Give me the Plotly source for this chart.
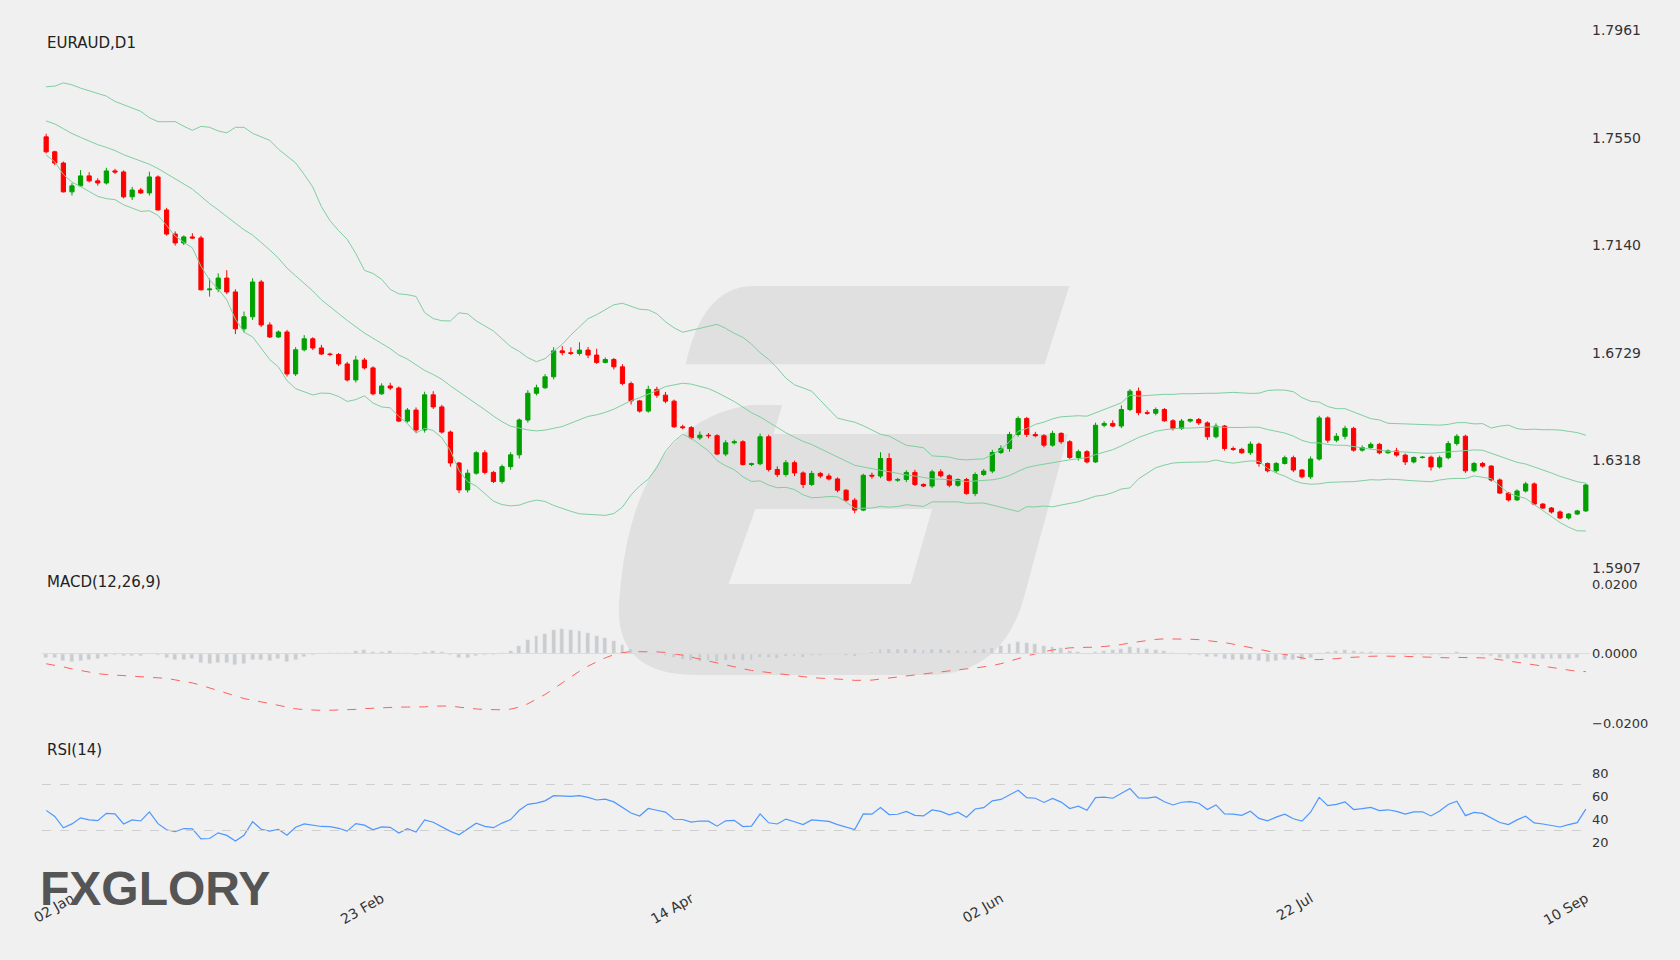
import numpy as np
import pandas as pd
import plotly.graph_objects as go

# closes of the 19 sessions before the chart (used only to warm up indicators)
history = [1.7680, 1.7710, 1.7730, 1.7700, 1.7670, 1.7650, 1.7630, 1.7660, 1.7640, 1.7610,
           1.7590, 1.7620, 1.7600, 1.7570, 1.7550, 1.7580, 1.7540, 1.7520, 1.7530]

first_open = 1.7553
closes = [
    1.7496, 1.7453, 1.7343, 1.7366, 1.7404, 1.7385, 1.7377, 1.7423, 1.7419, 1.7324, 1.7350, 1.7339,
    1.7400, 1.7274, 1.7182, 1.7148, 1.7171, 1.7167, 1.6969, 1.6972, 1.7014, 1.6961, 1.6820, 1.6866,
    1.6999, 1.6835, 1.6789, 1.6808, 1.6648, 1.6740, 1.6782, 1.6747, 1.6724, 1.6722, 1.6686, 1.6625,
    1.6701, 1.6671, 1.6572, 1.6602, 1.6594, 1.6468, 1.6510, 1.6434, 1.6568, 1.6522, 1.6426, 1.6308,
    1.6205, 1.6269, 1.6347, 1.6272, 1.6237, 1.6294, 1.6339, 1.6472, 1.6574,
    1.6595, 1.6637, 1.6736,
    1.6729, 1.6726, 1.6739, 1.6720, 1.6692, 1.6703, 1.6675, 1.6611, 1.6545, 1.6506, 1.6589, 1.6567,
    1.6544, 1.6446, 1.6443, 1.6404, 1.6414, 1.6412, 1.6342, 1.6385, 1.6389, 1.6302, 1.6305, 1.6408,
    1.6283, 1.6264, 1.6309, 1.6270, 1.6226, 1.6268, 1.6258, 1.6247, 1.6204, 1.6166, 1.6128, 1.6261,
    1.6258, 1.6325, 1.6242, 1.6245, 1.6272, 1.6226, 1.6220, 1.6274, 1.6259, 1.6223, 1.6245, 1.6191,
    1.6264, 1.6277, 1.6348,
    1.6363, 1.6417, 1.6478, 1.6417, 1.6412, 1.6376, 1.6421, 1.6389, 1.6329, 1.6351, 1.6312, 1.6452,
    1.6459, 1.6449, 1.6512, 1.6582, 1.6500, 1.6498, 1.6512, 1.6469, 1.6440, 1.6468, 1.6474, 1.6461,
    1.6408, 1.6449, 1.6363, 1.6360, 1.6347, 1.6380, 1.6306, 1.6278, 1.6306, 1.6328, 1.6281, 1.6255,
    1.6323, 1.6480, 1.6395, 1.6410, 1.6440, 1.6357, 1.6367, 1.6379, 1.6347, 1.6354, 1.6338, 1.6312,
    1.6329, 1.6330, 1.6293, 1.6328, 1.6382, 1.6410, 1.6278, 1.6306, 1.6296,
    1.6243, 1.6193, 1.6167, 1.6201, 1.6228, 1.6151, 1.6136, 1.6121, 1.6098, 1.6113, 1.6125, 1.6224,
]

# wick lengths above / below the body, in pips
upper_pips = [
    12, 4, 6, 10, 22, 14, 10, 12, 8, 6, 12, 8, 20, 6, 8, 10, 6, 14, 8, 40, 18, 30, 10, 20,
    14, 8, 10, 6, 8, 10, 14, 6, 12, 5, 6, 8, 16, 8, 6, 10, 12, 6, 8, 10, 12, 14, 8, 6,
    4, 14, 6, 10, 6, 8, 10, 6, 12, 12, 10, 14,
    18, 20, 30, 12, 24, 8, 6, 10, 8, 4, 14, 10, 12, 6, 8, 6, 14, 8, 6, 10, 8, 6, 4, 12,
    8, 12, 10, 8, 6, 10, 6, 10, 6, 4, 8, 6, 10, 24, 20, 6, 8, 10, 4, 8, 10, 6, 4, 6, 8, 8, 10,
    12, 10, 8, 6, 10, 6, 10, 4, 6, 8, 6, 10, 8, 12, 16, 8, 14, 10, 8, 6, 6, 8, 4, 6,
    6, 10, 4, 8, 6, 10, 6, 4, 6, 8, 8, 4, 10, 8, 6, 12, 10, 6, 8, 8, 6, 6, 12, 6,
    4, 4, 6, 8, 10, 8, 6, 6, 6,
    4, 6, 4, 6, 8, 6, 4, 4, 6, 4, 4, 6,
]
lower_pips = [
    6, 8, 2, 14, 4, 6, 10, 6, 8, 6, 12, 4, 10, 2, 6, 10, 8, 4, 2, 26, 12, 8, 20, 14,
    12, 8, 4, 4, 10, 8, 6, 8, 4, 6, 8, 6, 10, 6, 6, 4, 8, 4, 6, 12, 10, 8, 6, 14,
    12, 10, 6, 8, 6, 8, 12, 14, 10, 8, 4, 10,
    10, 6, 8, 12, 6, 4, 10, 6, 14, 6, 6, 10, 8, 4, 6, 6, 8, 10, 4, 8, 6, 4, 6, 6,
    8, 10, 8, 12, 14, 6, 8, 6, 8, 6, 12, 4, 10, 8, 4, 6, 10, 6, 4, 8, 6, 8, 6, 4, 10, 6, 8,
    6, 12, 8, 10, 6, 8, 6, 8, 6, 12, 6, 4, 8, 4, 8, 6, 10, 6, 8, 4, 8, 6, 6, 8,
    12, 6, 8, 6, 4, 8, 12, 6, 8, 4, 8, 6, 8, 6, 10, 8, 12, 6, 6, 6, 6, 4, 6, 12,
    6, 4, 14, 6, 6, 8, 8, 6, 6,
    6, 4, 6, 4, 6, 4, 4, 6, 4, 6, 4, 4,
]

tick_labels = ["02 Jan", "23 Feb", "14 Apr", "02 Jun", "22 Jul", "10 Sep"]
tick_index = [3, 39, 75, 111, 147, 179]

price_ticks = [1.7961, 1.7550, 1.7140, 1.6729, 1.6318, 1.5907]

# ---- build candles & indicators
n = len(closes)
idx = np.arange(n)
c = np.array(closes)
o = np.concatenate([[first_open], c[:-1]])
h = np.maximum(o, c) + np.array(upper_pips) * 0.0001
l = np.minimum(o, c) - np.array(lower_pips) * 0.0001

full = pd.Series(history + closes)
mid = full.rolling(20).mean()
sd = full.rolling(20).std(ddof=0)
k = len(history)
bb_mid = mid.iloc[k:].values
bb_up = (mid + 2 * sd).iloc[k:].values
bb_lo = (mid - 2 * sd).iloc[k:].values

ema12 = full.ewm(span=12, adjust=False).mean()
ema26 = full.ewm(span=26, adjust=False).mean()
macd = ema12 - ema26
signal = macd.ewm(span=9, adjust=False).mean()
hist = (macd - signal).iloc[k:].values
sig = signal.iloc[k:].values

delta = full.diff()
gain = delta.clip(lower=0).ewm(alpha=1 / 14, adjust=False).mean()
loss = (-delta.clip(upper=0)).ewm(alpha=1 / 14, adjust=False).mean()
rsi = (100 - 100 / (1 + gain / loss)).iloc[k:].values

BG = "#f0f0f0"
BAND = "#7fcf9f"

fig = go.Figure()
for band in (bb_up, bb_mid, bb_lo):
    fig.add_trace(go.Scatter(x=idx, y=band, mode="lines", line=dict(color=BAND, width=1),
                             xaxis="x", yaxis="y", hoverinfo="skip"))
fig.add_trace(go.Candlestick(
    x=idx, open=o, high=h, low=l, close=c, xaxis="x", yaxis="y", whiskerwidth=0,
    increasing=dict(line=dict(color="#00a000", width=1), fillcolor="#00a000"),
    decreasing=dict(line=dict(color="#ff0000", width=1), fillcolor="#ff0000"),
))
fig.add_trace(go.Bar(x=idx, y=hist, marker_color="#cccccc", width=0.45,
                     xaxis="x2", yaxis="y2"))
fig.add_trace(go.Scatter(x=idx, y=sig, mode="lines", line=dict(color="#ff6060", width=1, dash="dash"),
                         xaxis="x2", yaxis="y2"))
fig.add_trace(go.Scatter(x=idx, y=rsi, mode="lines", line=dict(color="#4d97ff", width=1.2),
                         xaxis="x3", yaxis="y3"))

# helper: reference-image pixels -> paper coords
L, R, T, B = 41, 1591, 30, 870
SC = 1680 / 1568


def px(x, y):
    return (x * SC - L) / (R - L), (B - y * SC) / (B - T)


def path(cmds):
    out = []
    for cmd, *pts in cmds:
        s = cmd
        for i in range(0, len(pts), 2):
            xx, yy = px(pts[i], pts[i + 1])
            s += f" {xx:.4f},{yy:.4f}"
        out.append(s)
    return " ".join(out) + " Z"


shapes = [
    dict(type="path", xref="paper", yref="paper", layer="below", line_width=0, fillcolor="#e0e0e0",
         path=path([("M", 700, 267), ("L", 998, 267), ("L", 975, 340), ("L", 640, 340), ("Q", 655, 270, 700, 267)])),
    dict(type="path", xref="paper", yref="paper", layer="below", line_width=0, fillcolor="#e0e0e0",
         path=path([("M", 730, 378), ("L", 700, 378), ("Q", 590, 395, 578, 560), ("Q", 572, 630, 650, 630),
                    ("L", 870, 630), ("Q", 935, 628, 955, 560), ("L", 997, 405), ("L", 722, 405)])),
    dict(type="path", xref="paper", yref="paper", layer="below", line_width=0, fillcolor=BG,
         path=path([("M", 705, 475), ("L", 870, 475), ("L", 850, 545), ("L", 680, 545)])),
]
for yv in (30, 70):
    shapes.append(dict(type="line", xref="x3", yref="y3", x0=-0.5, x1=n - 0.5, y0=yv, y1=yv,
                       line=dict(color="#cfcfcf", width=1, dash="dash")))
shapes.append(dict(type="line", xref="x2", yref="y2", x0=-0.5, x1=n - 0.5, y0=0, y1=0,
                   line=dict(color="#dcdcdc", width=1)))

xr = [-0.6, n - 0.4]
axis_font = dict(family="DejaVu Sans", size=14, color="#333333")
fig.update_layout(
    width=1680, height=960,
    paper_bgcolor=BG, plot_bgcolor=BG,
    margin=dict(l=L, r=1680 - R, t=T, b=960 - B),
    showlegend=False, shapes=shapes, bargap=0,
    xaxis=dict(domain=[0, 1], range=xr, anchor="y", showticklabels=False, showgrid=False,
               zeroline=False, rangeslider=dict(visible=False)),
    xaxis2=dict(domain=[0, 1], range=xr, anchor="y2", matches="x", showticklabels=False,
                showgrid=False, zeroline=False),
    xaxis3=dict(domain=[0, 1], range=xr, anchor="y3", matches="x", showgrid=False, zeroline=False,
                tickmode="array", tickvals=tick_index, ticktext=tick_labels, tickangle=-30,
                ticks="", tickfont=axis_font, ticklabelstandoff=22),
    yaxis=dict(domain=[(B - 568) / (B - T), 1], range=[1.5907, 1.7961], side="right",
               tickmode="array", tickvals=price_ticks, tickformat=".4f", showgrid=False,
               zeroline=False, tickfont=axis_font, ticklabelposition="outside"),
    yaxis2=dict(domain=[(B - 723) / (B - T), (B - 584) / (B - T)], range=[-0.02, 0.02],
                side="right", anchor="x2", tickmode="array", tickvals=[0.02, 0, -0.02],
                tickformat=".4f", showgrid=False, zeroline=False,
                tickfont=dict(family="DejaVu Sans", size=13, color="#333333")),
    yaxis3=dict(domain=[(B - 865) / (B - T), (B - 750) / (B - T)], range=[0, 100],
                side="right", anchor="x3", tickmode="array", tickvals=[20, 40, 60, 80],
                showgrid=False, zeroline=False,
                tickfont=dict(family="DejaVu Sans", size=13, color="#333333")),
)

for text, y in (("EURAUD,D1", 43), ("MACD(12,26,9)", 582), ("RSI(14)", 750)):
    fig.add_annotation(text=text, xref="paper", yref="paper", x=(45 - L) / (R - L),
                       y=(B - y) / (B - T), xanchor="left", yanchor="middle", showarrow=False,
                       font=dict(family="DejaVu Sans", size=15, color="#222222"))

fig.add_annotation(text="<b>FXGLORY</b>", xref="paper", yref="paper",
                   x=(38 - L) / (R - L), y=(B - 889) / (B - T), xanchor="left", yanchor="middle",
                   showarrow=False, font=dict(family="Liberation Sans", size=48, color="#555555"))

fig.write_html("out.html", config={"displayModeBar": False},
               post_script="document.body.style.margin='0';")
